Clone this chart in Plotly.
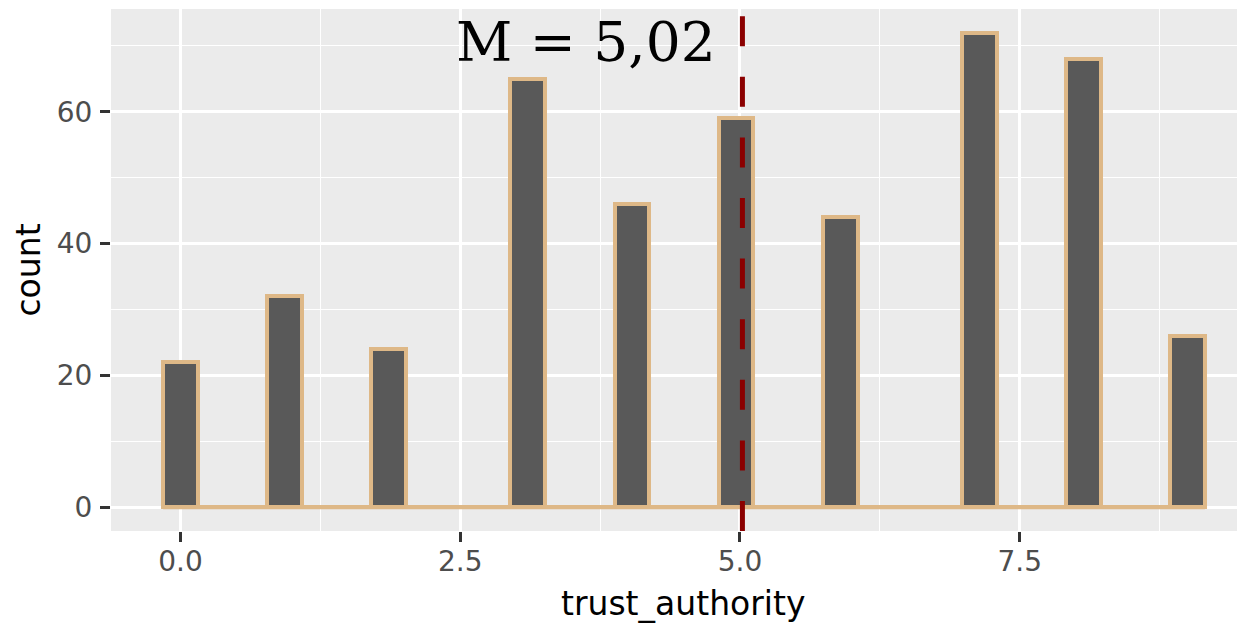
import numpy as np
import plotly.graph_objects as go

# ---- data ----
trust_values = [0, 1, 2, 3, 4, 5, 6, 7, 8, 9]
trust_counts = [22, 32, 24, 65, 46, 59, 44, 72, 68, 26]
x_tick_vals = [0.0, 2.5, 5.0, 7.5]
x_tick_text = ["0.0", "2.5", "5.0", "7.5"]
y_tick_vals = [0, 20, 40, 60]
y_tick_text = ["0", "20", "40", "60"]

# ---- histogram binning (ggplot default: 30 bins) ----
n_bins = 30
lo, hi = min(trust_values), max(trust_values)
bw = (hi - lo) / (n_bins - 1)
centers = np.array([lo + i * bw for i in range(n_bins)])
bin_counts = np.zeros(n_bins)
for v, c in zip(trust_values, trust_counts):
    idx = int(np.floor((v - lo + bw / 2) / bw))
    idx = min(max(idx, 0), n_bins - 1)
    bin_counts[idx] += c
left_edge = centers[0] - bw / 2
right_edge = centers[-1] + bw / 2

mean_val = sum(v * c for v, c in zip(trust_values, trust_counts)) / sum(trust_counts)
mean_label = "M = " + f"{mean_val:.2f}".replace(".", ",")

OUTLINE = "#DEB887"
FILL = "#595959"

fig = go.Figure()

# baseline outline of the empty bins
fig.add_trace(go.Scatter(
    x=[left_edge, right_edge], y=[0, 0], mode="lines",
    line=dict(color=OUTLINE, width=4), hoverinfo="skip", showlegend=False,
))

fig.add_trace(go.Bar(
    x=centers, y=bin_counts, width=bw,
    marker=dict(color=FILL, line=dict(color=OUTLINE, width=4)),
    showlegend=False,
))

fig.add_shape(
    type="line", xref="x", yref="paper", x0=mean_val, x1=mean_val, y0=0, y1=1,
    line=dict(color="#8B0000", width=5, dash="30px,30.6px"), layer="above",
)

fig.add_annotation(
    text=mean_label, xref="x", yref="y", x=mean_val - 0.22, y=70.6,
    xanchor="right", yanchor="middle", showarrow=False,
    font=dict(family="DejaVu Serif", size=55, color="black"),
)

# axis titles
fig.add_annotation(
    text="trust_authority", xref="paper", yref="paper", x=0.5044, y=-0.139,
    xanchor="center", yanchor="middle", showarrow=False,
    font=dict(family="DejaVu Sans", size=33, color="black"),
)
fig.add_annotation(
    text="count", xref="paper", yref="paper", x=-0.0736, y=0.5, textangle=-90,
    xanchor="center", yanchor="middle", showarrow=False,
    font=dict(family="DejaVu Sans", size=33, color="black"),
)

fig.update_layout(
    width=1237, height=616,
    margin=dict(l=103, r=0, t=1, b=93, pad=0, autoexpand=False),
    paper_bgcolor="white", plot_bgcolor="#EBEBEB",
    bargap=0,
    font=dict(family="DejaVu Sans"),
)

fig.update_xaxes(
    range=[-0.6207, 9.513], automargin=False,
    tickvals=x_tick_vals, ticktext=x_tick_text,
    ticks="outside", ticklen=10, tickwidth=2.5, tickcolor="#333333",
    ticklabelstandoff=-5,
    tickfont=dict(family="DejaVu Sans", size=28, color="#4D4D4D"),
    showgrid=True, gridcolor="white", gridwidth=2.5,
    minor=dict(dtick=1.25, tick0=0, showgrid=True, gridcolor="white", gridwidth=1.2),
    zeroline=False, showline=False,
)
fig.update_yaxes(
    range=[-3.6, 75.6], automargin=False,
    tickvals=y_tick_vals, ticktext=y_tick_text,
    ticks="outside", ticklen=10, tickwidth=2.5, tickcolor="#333333",
    ticklabelstandoff=2,
    tickfont=dict(family="DejaVu Sans", size=28, color="#4D4D4D"),
    showgrid=True, gridcolor="white", gridwidth=2.5,
    minor=dict(dtick=10, tick0=0, showgrid=True, gridcolor="white", gridwidth=1.2),
    zeroline=False, showline=False,
)

fig.write_html("out.html")
